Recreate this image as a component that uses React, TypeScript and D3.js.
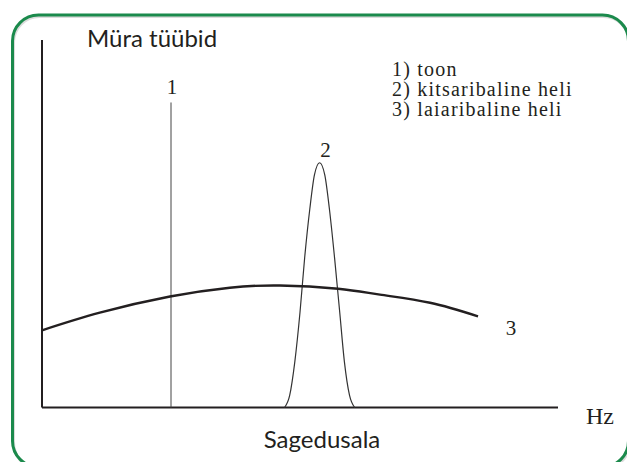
import React from "react";
import * as d3 from "d3";

// Frequency axis runs 0..100 (arbitrary units), level 0..100
const xDomain = [0, 100];
const yDomain = [0, 100];

// 1) tone — single frequency line
const toneX = [25];
const toneY = [83];

// 2) narrow-band noise
const narrowX = [47.0, 48.0, 49.0, 50.0, 50.9, 51.9, 52.8, 53.8, 54.8, 55.7, 56.7, 57.7, 58.6, 59.6, 60.6];
const narrowY = [0, 3.3, 12.5, 25.9, 40.7, 54.0, 63.3, 66.6, 63.3, 54.0, 40.7, 25.9, 12.5, 3.3, 0];

// 3) broad-band noise
const broadX = [0, 11.2, 24.8, 36.4, 46.1, 57.4, 65.5, 75.2, 84.5];
const broadY = [21.0, 25.8, 30.2, 32.6, 33.2, 32.3, 30.7, 28.5, 24.8];

const legendItems = ["1) toon", "2) kitsaribaline heli", "3) laiaribaline heli"];
const seriesLabels = ["1", "2", "3"];
const yTitle = "Müra tüübid";
const xTitle = "Sagedusala";
const xUnit = "Hz";

const W = 627;
const H = 462;

export default function App() {
  const x = d3.scaleLinear().domain(xDomain).range([42, 558]);
  const y = d3.scaleLinear().domain(yDomain).range([407.5, 40]);

  const narrowPath = d3
    .line<[number, number]>()
    .x((d) => x(d[0]))
    .y((d) => y(d[1]))
    .curve(d3.curveMonotoneX)(narrowX.map((v, i) => [v, narrowY[i]] as [number, number]));
  const broadPath = d3
    .line<[number, number]>()
    .x((d) => x(d[0]))
    .y((d) => y(d[1]))
    .curve(d3.curveNatural)(broadX.map((v, i) => [v, broadY[i]] as [number, number]));

  const sans = "Lato, 'Open Sans', sans-serif";
  const serif = "'Liberation Serif', 'DejaVu Serif', serif";
  const ink = "#231f20";

  return (
    <svg
      width={W}
      height={H}
      style={{ position: "absolute", left: 0, top: 0, background: "#fff" }}
    >
      {/* green rounded frame */}
      <rect x={13.5} y={16.5} width={616} height={452} rx={26} fill="none" stroke="#dcdcdc" strokeWidth={3} />
      <rect x={12.5} y={15} width={616} height={452} rx={26} fill="none" stroke="#1b8a4c" strokeWidth={3} />

      {/* axes */}
      <line x1={x(xDomain[0])} x2={x(xDomain[0])} y1={y(yDomain[1])} y2={y(yDomain[0])} stroke={ink} strokeWidth={2} />
      <line x1={x(xDomain[0])} x2={x(xDomain[1])} y1={y(yDomain[0])} y2={y(yDomain[0])} stroke={ink} strokeWidth={2} />

      {/* series 1: tone */}
      <line x1={x(toneX[0])} x2={x(toneX[0])} y1={y(0)} y2={y(toneY[0])} stroke="#444" strokeWidth={1} />
      {/* series 2: narrow-band */}
      <path d={narrowPath || ""} fill="none" stroke="#333" strokeWidth={1.2} />
      {/* series 3: broad-band */}
      <path d={broadPath || ""} fill="none" stroke={ink} strokeWidth={2.4} />

      {/* series labels */}
      <text x={x(toneX[0]) + 1} y={94} fontFamily={serif} fontSize={21} fill={ink} textAnchor="middle">
        {seriesLabels[0]}
      </text>
      <text x={x(narrowX[7]) + 6} y={157} fontFamily={serif} fontSize={21} fill={ink} textAnchor="middle">
        {seriesLabels[1]}
      </text>
      <text x={x(broadX[broadX.length - 1]) + 33} y={335} fontFamily={serif} fontSize={21} fill={ink} textAnchor="middle">
        {seriesLabels[2]}
      </text>

      {/* legend */}
      {legendItems.map((t, i) => (
        <text key={t} x={392} y={76 + i * 20} fontFamily={serif} fontSize={20} letterSpacing={1.2} fill={ink}>
          {t}
        </text>
      ))}

      {/* titles */}
      <text x={87} y={47} fontFamily={sans} fontSize={24} fill={ink}>
        {yTitle}
      </text>
      <text x={322} y={448} fontFamily={sans} fontSize={24} fill={ink} textAnchor="middle">
        {xTitle}
      </text>
      <text x={586} y={424} fontFamily={serif} fontSize={24} fill={ink}>
        {xUnit}
      </text>
    </svg>
  );
}
